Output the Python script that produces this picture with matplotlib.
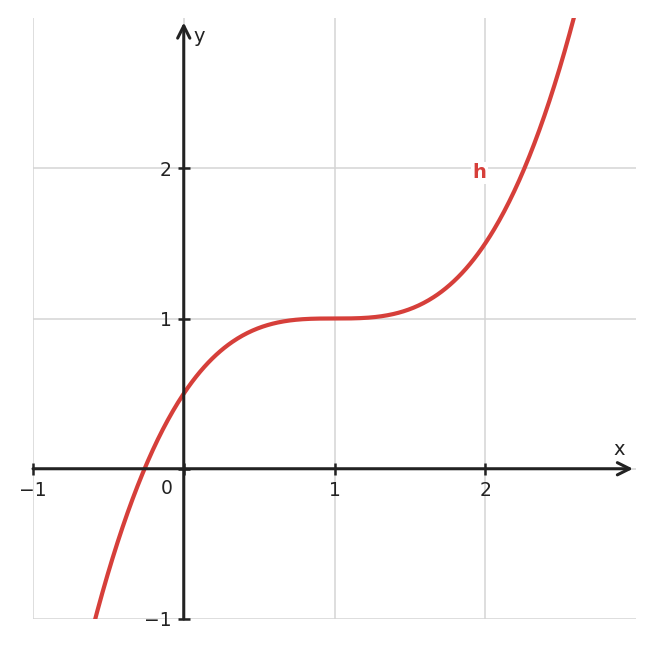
import numpy as np
import matplotlib.pyplot as plt

# h(x) = a*(x - x0)^3 + y0
coef_a = 0.5
shift_x = 1.0
shift_y = 1.0
x_range = [-1, 3]
y_range = [-1, 3]
x_ticks = [-1, 0, 1, 2]
y_ticks = [-1, 0, 1, 2]
curve_label = 'h'

red = '#d63f3a'
dark = '#222222'

fig = plt.figure(figsize=(6.53, 6.48), dpi=100)
ax = fig.add_axes([33 / 653, 29 / 648, 603 / 653, 601 / 648])

xs = np.linspace(x_range[0], x_range[1], 600)
ys = coef_a * (xs - shift_x) ** 3 + shift_y
ax.plot(xs, ys, color=red, lw=3, zorder=3, clip_on=True)

ax.set_xlim(x_range)
ax.set_ylim(y_range)
ax.set_xticks(x_ticks)
ax.set_yticks(y_ticks)
ax.set_xticklabels(['\u22121', '', '1', '2'])
ax.set_yticklabels(['\u22121', '', '1', '2'])
ax.grid(True, color='#d4d4d4', lw=1.1, zorder=0)

for side in ['top', 'right']:
    ax.spines[side].set_visible(False)
ax.spines['left'].set_position(('data', 0))
ax.spines['bottom'].set_position(('data', 0))
ax.spines['left'].set_visible(False)
ax.spines['bottom'].set_visible(False)
ax.tick_params(direction='inout', length=9, width=1.8, color=dark,
               labelsize=13.5, labelcolor=dark, pad=4)

# axis arrows
ax.annotate('', xy=(2.98, 0), xytext=(-1, 0),
            arrowprops=dict(arrowstyle='->', color=dark, lw=2.2,
                            mutation_scale=22, shrinkA=0, shrinkB=0),
            zorder=4)
ax.annotate('', xy=(0, 2.97), xytext=(0, -1),
            arrowprops=dict(arrowstyle='->', color=dark, lw=2.2,
                            mutation_scale=22, shrinkA=0, shrinkB=0),
            zorder=4)

ax.text(-0.11, -0.13, '0', fontsize=13.5, color=dark, ha='center', va='center')
ax.text(2.89, 0.13, 'x', fontsize=14, color=dark, ha='center', va='center')
ax.text(0.1, 2.88, 'y', fontsize=14, color=dark, ha='center', va='center')
ax.text(1.96, 1.97, curve_label, fontsize=14, color=red, fontweight='bold',
        ha='center', va='center',
        bbox=dict(facecolor='white', edgecolor='none', pad=1))

fig.savefig('out.png', dpi=100)
